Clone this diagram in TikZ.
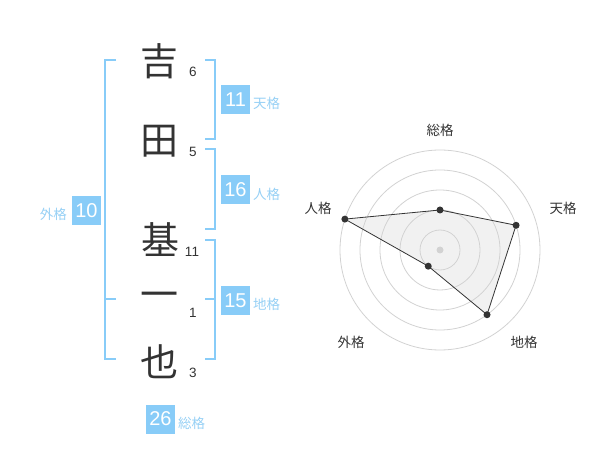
\documentclass[tikz,border=0pt]{standalone}
\usepackage{fontspec}
\setmainfont{Liberation Sans}
\newfontfamily\jp{Noto Sans CJK JP}
\definecolor{sky}{RGB}{136,204,248}
\definecolor{skytext}{RGB}{150,208,245}
\definecolor{ink}{RGB}{51,51,51}
\definecolor{ring}{RGB}{210,210,210}
\definecolor{area}{RGB}{238,238,238}
\tikzset{
  kanji/.style={inner sep=0pt, font=\jp\fontsize{38}{38}\selectfont, text=ink},
  stroke/.style={inner sep=0pt, font=\fontsize{13.5}{14}\selectfont, text=ink},
  valbox/.style={fill=sky, text=white, minimum width=29pt, minimum height=29pt, inner sep=0pt, font=\fontsize{20}{20}\selectfont},
  kaku/.style={inner sep=0pt, text=skytext, font=\jp\fontsize{13.5}{14}\selectfont},
  brk/.style={draw=sky, line width=2pt},
  axislab/.style={inner sep=0pt, text=ink, font=\jp\fontsize{13.5}{14}\selectfont},
  pt/.style={circle, fill=ink, inner sep=0pt, minimum size=7pt},
}
\begin{document}
\begin{tikzpicture}[x=1pt, y=-1pt]
\useasboundingbox (0,0) rectangle (600,470);
% kanji
\node[kanji] (k1) at (159,61) {吉};
\node[kanji] (k2) at (159,141) {田};
\node[kanji] (k3) at (160,240) {基};
\node[kanji] (k4) at (159,300) {一};
\node[kanji] (k5) at (159,362) {也};
% stroke counts
\node[stroke] (s1) at (193,72) {6};
\node[stroke] (s2) at (193,152) {5};
\node[stroke] (s3) at (192,252) {11};
\node[stroke] (s4) at (193,313) {1};
\node[stroke] (s5) at (193,373) {3};
% brackets
\draw[brk] (116,60) -- (105,60) -- (105,359) -- (116,359);
\draw[brk] (105,299) -- (116,299);
\draw[brk] (205,60) -- (215,60) -- (215,139) -- (205,139);
\draw[brk] (205,149) -- (215,149) -- (215,229) -- (205,229);
\draw[brk] (205,240) -- (215,240) -- (215,359) -- (205,359);
\draw[brk] (205,299) -- (215,299);
% value boxes
\node[valbox] (b1) at (235.5,99.5) {11};
\node[kaku, anchor=west] (l1) at (253,103) {天格};
\node[valbox] (b2) at (235.5,190) {16};
\node[kaku, anchor=west] (l2) at (253,194) {人格};
\node[valbox] (b3) at (235.5,300.5) {15};
\node[kaku, anchor=west] (l3) at (253,304) {地格};
\node[valbox] (b4) at (86.5,210.5) {10};
\node[kaku, anchor=east] (l4) at (67,214) {外格};
\node[valbox] (b5) at (160.5,419) {26};
\node[kaku, anchor=west] (l5) at (178,423) {総格};
% radar
\begin{scope}[shift={(440,250)}, yscale=-1]
  \coordinate (p1) at (90:40);
  \coordinate (p2) at (18:80);
  \coordinate (p3) at (-54:80);
  \coordinate (p4) at (-126:20);
  \coordinate (p5) at (162:100);
  \fill[area, opacity=0.8] (p1) -- (p2) -- (p3) -- (p4) -- (p5) -- cycle;
  \foreach \r in {20,40,60,80,100} \draw[ring, line width=0.8pt] (0,0) circle (\r);
  \draw[ink, line width=0.8pt] (p1) -- (p2) -- (p3) -- (p4) -- (p5) -- cycle;
  \foreach \p in {p1,p2,p3,p4,p5} \node[pt] at (\p) {};
  \node[circle, fill=ring, inner sep=0pt, minimum size=7pt] (c0) at (0,0) {};
  \node[axislab] (a1) at (0,120) {総格};
  \node[axislab] (a2) at (123,42) {天格};
  \node[axislab] (a3) at (84,-92) {地格};
  \node[axislab] (a4) at (-89,-92) {外格};
  \node[axislab] (a5) at (-122,42) {人格};
\end{scope}
\end{tikzpicture}
\end{document}
